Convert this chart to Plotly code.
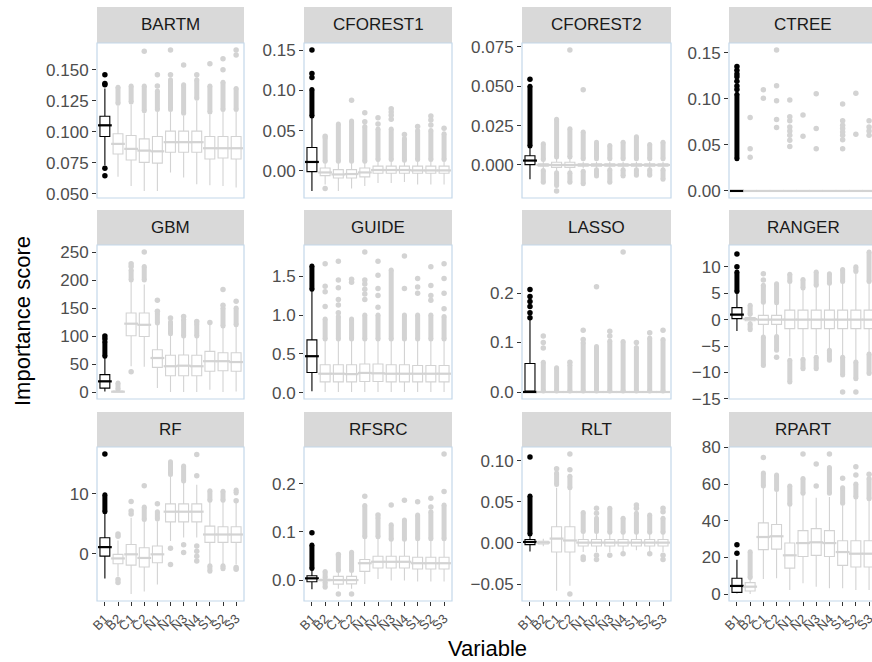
import plotly.graph_objects as go

# ---------------------------------------------------------------- data
VARS = ["B1", "B2", "C1", "C2", "N1", "N2", "N3", "N4", "S1", "S2", "S3"]
MODELS = ["BARTM", "CFOREST1", "CFOREST2", "CTREE",
          "GBM", "GUIDE", "LASSO", "RANGER",
          "RF", "RFSRC", "RLT", "RPART"]

# whisker ends and quartiles, one value per variable (order of VARS)
LOWER = {
    "BARTM":    [0.073, 0.0636, 0.0563, 0.0522, 0.0522, 0.0671, 0.0630, 0.0576, 0.0568, 0.0563, 0.0549],
    "CFOREST1": [-0.025, -0.017, -0.025, -0.022, -0.019, -0.015, -0.015, -0.014, -0.017, -0.017, -0.017],
    "CFOREST2": [-0.009, -0.0025, -0.004, -0.004, -0.002, -0.002, -0.002, -0.002, -0.002, -0.002, -0.002],
    "CTREE":    [0, 0, 0, 0, 0, 0, 0, 0, 0, 0, 0],
    "GBM":      [1, 0, 46, 45, 7, 0, 0, 0, 4, 0, 1],
    "GUIDE":    [0.02, 0.01, 0.01, 0.01, 0.01, 0.01, 0.01, 0.01, 0.01, 0.01, 0.01],
    "LASSO":    [0, 0, 0, 0, 0, 0, 0, 0, 0, 0, 0],
    "RANGER":   [-2.15, -0.6, -3.0, -3.0, -7.0, -7.0, -6.5, -5.6, -6.8, -7.8, -6.3],
    "RF":       [-4.1, -3.8, -6.7, -6.3, -5.1, 2.1, 2.7, 2.7, -1.8, -1.7, -1.8],
    "RFSRC":    [-0.019, -0.003, -0.018, -0.018, -0.008, 0.002, -0.001, -0.001, -0.003, -0.003, -0.003],
    "RLT":      [-0.0103, -0.004, -0.058, -0.052, -0.011, -0.011, -0.011, -0.011, -0.009, -0.011, -0.011],
    "RPART":    [0.4, 0.0, 8.2, 8.6, 2.2, 5.9, 4.0, 3.1, 3.1, 2.2, 2.2],
}
Q1 = {
    "BARTM":    [0.0962, 0.0821, 0.0772, 0.0753, 0.0747, 0.0834, 0.0834, 0.0834, 0.0780, 0.0788, 0.0780],
    "CFOREST1": [-0.001, -0.006, -0.009, -0.009, -0.0075, -0.003, -0.003, -0.003, -0.003, -0.003, -0.003],
    "CFOREST2": [0.0002, -0.0008, -0.0015, -0.0015, -0.0008, -0.0008, -0.0008, -0.0008, -0.0008, -0.0008, -0.0008],
    "CTREE":    [0, 0, 0, 0, 0, 0, 0, 0, 0, 0, 0],
    "GBM":      [7, 0, 100.5, 99, 44, 29, 29, 29, 37, 38, 37],
    "GUIDE":    [0.26, 0.14, 0.14, 0.14, 0.145, 0.145, 0.14, 0.14, 0.14, 0.14, 0.14],
    "LASSO":    [0, 0, 0, 0, 0, 0, 0, 0, 0, 0, 0],
    "RANGER":   [0.19, -0.2, -0.9, -0.9, -1.7, -1.7, -1.7, -1.7, -1.7, -1.7, -1.7],
    "RF":       [-0.39, -1.67, -1.9, -2.2, -1.5, 5.3, 5.3, 5.3, 1.9, 1.9, 1.9],
    "RFSRC":    [-0.0035, -0.0015, -0.0084, -0.008, 0.018, 0.025, 0.025, 0.025, 0.023, 0.023, 0.023],
    "RLT":      [-0.002, -0.0012, -0.011, -0.011, -0.0037, -0.0037, -0.0037, -0.0037, -0.0037, -0.0037, -0.0037],
    "RPART":    [0.9, 1.6, 24.2, 24.5, 14.1, 20.5, 21.1, 20.5, 15.6, 14.7, 14.7],
}
MEDIAN = {
    "BARTM":    [0.1052, 0.0902, 0.0862, 0.0848, 0.0842, 0.0916, 0.0916, 0.0916, 0.0867, 0.0867, 0.0867],
    "CFOREST1": [0.011, -0.002, -0.0045, -0.004, -0.002, 0.001, 0.001, 0.001, 0.0005, 0.0005, 0.0005],
    "CFOREST2": [0.0028, 0, 0, 0, 0, 0, 0, 0, 0, 0, 0],
    "CTREE":    [0, 0, 0, 0, 0, 0, 0, 0, 0, 0, 0],
    "GBM":      [19, 0.5, 122, 120, 60.7, 46, 47, 46, 55, 55, 53.5],
    "GUIDE":    [0.47, 0.245, 0.245, 0.24, 0.255, 0.25, 0.245, 0.245, 0.245, 0.245, 0.245],
    "LASSO":    [0, 0, 0, 0, 0, 0, 0, 0, 0, 0, 0],
    "RANGER":   [0.95, 0.1, 0, 0, 0, 0, 0, 0, 0, 0, 0],
    "RF":       [1.1, -0.78, -0.1, -0.7, -0.1, 7.0, 7.0, 7.0, 3.2, 3.2, 3.2],
    "RFSRC":    [0.0035, 0, 0, 0, 0.035, 0.038, 0.038, 0.038, 0.035, 0.035, 0.035],
    "RLT":      [0.0012, 0.0005, 0.0053, 0.003, 0.0004, 0.0004, 0.0004, 0.0004, 0.0004, 0.0004, 0.0004],
    "RPART":    [4.4, 4.0, 31.1, 31.5, 21.1, 27.8, 28.2, 27.8, 22.9, 22.0, 22.0],
}
Q3 = {
    "BARTM":    [0.1125, 0.0984, 0.0970, 0.0943, 0.0962, 0.1005, 0.1005, 0.1005, 0.0962, 0.0962, 0.0962],
    "CFOREST1": [0.029, 0.0036, 0.0015, 0.0015, 0.0036, 0.0058, 0.0058, 0.0058, 0.0058, 0.0058, 0.0058],
    "CFOREST2": [0.0059, 0.0008, 0.0017, 0.0017, 0.0008, 0.0008, 0.0008, 0.0008, 0.0008, 0.0008, 0.0008],
    "CTREE":    [0, 0, 0, 0, 0, 0, 0, 0, 0, 0, 0],
    "GBM":      [31, 1.5, 141, 141, 75.5, 65.5, 66, 65.5, 72.6, 70, 70],
    "GUIDE":    [0.68, 0.36, 0.36, 0.36, 0.37, 0.37, 0.36, 0.36, 0.35, 0.35, 0.35],
    "LASSO":    [0.0577, 0, 0, 0, 0, 0, 0, 0, 0, 0, 0],
    "RANGER":   [2.28, 0.4, 0.8, 0.8, 1.8, 1.8, 1.8, 1.8, 1.8, 1.8, 1.8],
    "RF":       [2.67, -0.1, 1.55, 1.0, 1.28, 8.3, 8.3, 8.3, 4.6, 4.5, 4.5],
    "RFSRC":    [0.009, 0.0015, 0.0077, 0.0077, 0.0426, 0.0496, 0.0496, 0.0496, 0.0475, 0.0475, 0.0475],
    "RLT":      [0.0041, 0.002, 0.0197, 0.0197, 0.0041, 0.0041, 0.0041, 0.0041, 0.0041, 0.0041, 0.0041],
    "RPART":    [8.6, 6.2, 38.8, 37.9, 27.8, 34.6, 35.7, 34.6, 29.1, 29.1, 29.1],
}
UPPER = {
    "BARTM":    [0.135, 0.121, 0.122, 0.115, 0.116, 0.116, 0.113, 0.125, 0.114, 0.116, 0.116],
    "CFOREST1": [0.066, 0.011, 0.011, 0.011, 0.011, 0.012, 0.012, 0.012, 0.012, 0.012, 0.012],
    "CFOREST2": [0.011, 0.0025, 0.004, 0.004, 0.002, 0.002, 0.002, 0.002, 0.002, 0.002, 0.002],
    "CTREE":    [0, 0, 0, 0, 0, 0, 0, 0, 0, 0, 0],
    "GBM":      [61, 4, 197, 192, 121, 102, 98, 98, 120, 115, 117],
    "GUIDE":    [1.31, 0.67, 0.67, 0.67, 0.67, 0.67, 0.67, 0.67, 0.67, 0.67, 0.67],
    "LASSO":    [0.146, 0, 0, 0, 0, 0, 0, 0, 0, 0, 0],
    "RANGER":   [5.2, 0.9, 3.0, 3.0, 6.8, 5.7, 6.3, 6.7, 7.0, 8.7, 7.0],
    "RF":       [6.8, 2.2, 6.0, 5.4, 5.4, 12.9, 11.9, 11.5, 8.6, 8.6, 8.5],
    "RFSRC":    [0.023, 0.004, 0.016, 0.016, 0.086, 0.086, 0.083, 0.083, 0.083, 0.083, 0.083],
    "RLT":      [0.0094, 0.005, 0.067, 0.065, 0.0115, 0.0115, 0.0115, 0.0115, 0.0115, 0.0115, 0.0115],
    "RPART":    [18.7, 8.5, 58, 56, 48, 54, 52.5, 53, 48.5, 52, 51],
}

# single outlying scores, per variable
OUTLIERS = {
    "BARTM":    [[0.0645, 0.0705, 0.138, 0.139, 0.146], [], [], [0.165], [0.137, 0.146], [0.146, 0.166],
                 [0.154], [0.146], [0.155], [0.150, 0.159], [0.162, 0.166]],
    "CFOREST1": [[0.116, 0.121, 0.150], [0.043, -0.022], [], [0.0875], [0.061, 0.072], [0.058, 0.066],
                 [0.064, 0.069, 0.073, 0.077], [0.045], [0.055], [0.057, 0.063, 0.068], [0.053]],
    "CFOREST2": [[0.0545], [], [-0.0165], [0.073], [0.0478], [], [], [], [], [], []],
    "CTREE":    [[0.110, 0.114, 0.119, 0.124, 0.127, 0.131, 0.135], [0.0366, 0.0457, 0.0797],
                 [0.1006, 0.1098], [0.0688, 0.0776, 0.098, 0.1141, 0.1529],
                 [0.0483, 0.0549, 0.0604, 0.0651, 0.0695, 0.0761, 0.0805, 0.0986], [0.0593, 0.0823],
                 [0.0457, 0.0677, 0.1054], [], [0.0457, 0.0556, 0.0604, 0.064, 0.0677, 0.0713, 0.0761, 0.0944],
                 [0.0615, 0.106], [0.0604, 0.065, 0.0695, 0.0761]],
    "GBM":      [[95, 100], [], [36, 224, 229], [250], [144, 164], [132], [135], [126], [124], [155, 183], [162]],
    "GUIDE":    [[], [1.11, 1.30, 1.37, 1.66], [1.03, 1.13, 1.20, 1.35, 1.45, 1.69], [1.42, 1.46],
                 [1.20, 1.27, 1.33, 1.40, 1.45, 1.81], [1.10, 1.25, 1.34, 1.51, 1.69], [], [1.34, 1.76],
                 [1.28, 1.36, 1.47], [1.19, 1.25, 1.38, 1.62], [1.08, 1.28, 1.47, 1.66]],
    "LASSO":    [[0.150, 0.160, 0.173, 0.183, 0.193, 0.207], [0.089, 0.100, 0.113], [], [0.060],
                 [0.106, 0.125], [0.213], [0.113, 0.123], [0.283], [0.100], [0.120], [0.125]],
    "RANGER":   [[10.0, 12.4], [], [7.5, 8.7], [-7.1], [], [], [], [], [-13.7], [-13.7], []],
    "RF":       [[16.6], [2.9, 3.3, -4.3, -4.8], [6.6, 7.1, 8.7], [11.3], [8.3], [0.9, -1.8], [1.5, 0.2],
                 [13.0, 16.5, 1.3, 0.4, -0.4, -1.2], [], [], [8.8, -2.3, -2.6]],
    "RFSRC":    [[0.0985], [], [0.053, -0.029], [-0.029], [0.174], [0.135], [0.156], [0.166], [0.163],
                 [0.152, 0.170], [0.184, 0.262]],
    "RLT":      [[0.1045], [], [0.090], [0.089, 0.108, -0.062], [-0.017, -0.020], [0.036, 0.042, -0.015, -0.020],
                 [-0.015], [-0.013], [0.042, 0.046], [-0.013], [0.038, 0.042, -0.015, -0.020]],
    "RPART":    [[22.3, 26.9], [], [74.5], [], [], [76.4], [59, 71], [76.4], [63.2], [65, 69.4], [65.4]],
}

# stretches of overlapping outliers (low, high), per variable
RUNS = {
    "BARTM":    [[], [(0.123, 0.136)], [(0.124, 0.137)], [(0.117, 0.137)], [(0.118, 0.133)], [(0.118, 0.142)],
                 [(0.115, 0.138)], [(0.127, 0.142)], [(0.116, 0.137)], [(0.118, 0.140)], [(0.118, 0.135)]],
    "CFOREST1": [[(0.068, 0.101)], [(0.012, 0.041)], [(0.012, 0.058)], [(0.012, 0.062)], [(0.012, 0.055)],
                 [(0.014, 0.052)], [(0.014, 0.052)], [(0.013, 0.040)], [(0.014, 0.050)], [(0.014, 0.050)],
                 [(0.014, 0.046)]],
    "CFOREST2": [[(0.012, 0.050)], [(0.0035, 0.0135), (-0.011, -0.0035)], [(0.005, 0.029), (-0.013, -0.005)],
                 [(0.005, 0.023), (-0.011, -0.005)], [(0.004, 0.021), (-0.012, -0.004)],
                 [(0.004, 0.0144), (-0.007, -0.003)], [(0.004, 0.0123), (-0.011, -0.003)],
                 [(0.004, 0.0144), (-0.007, -0.003)], [(0.004, 0.018), (-0.0065, -0.003)],
                 [(0.004, 0.013), (-0.0065, -0.003)], [(0.004, 0.0144), (-0.009, -0.003)]],
    "CTREE":    [[(0.035, 0.105)], [], [], [], [], [], [], [], [], [], []],
    "GBM":      [[(64, 90)], [(5, 16)], [(200, 218)], [(200, 224)], [(123, 140)], [(104, 125)], [(100, 130)],
                 [(100, 122)], [], [(118, 150)], [(120, 150)]],
    "GUIDE":    [[(1.33, 1.63)], [(0.69, 0.95)], [(0.69, 0.98)], [(0.69, 0.95)], [(0.69, 1.0)], [(0.69, 1.0)],
                 [(0.69, 1.58)], [(0.69, 1.0)], [(0.69, 1.0)], [(0.69, 1.0)], [(0.69, 0.98)]],
    "LASSO":    [[], [(0.002, 0.06)], [(0.002, 0.049)], [(0.002, 0.055)], [(0.002, 0.10)], [(0.002, 0.092)],
                 [(0.002, 0.103)], [(0.002, 0.102)], [(0.002, 0.09)], [(0.002, 0.109)], [(0.002, 0.106)]],
    "RANGER":   [[(5.3, 9.0)], [(1.0, 2.7), (-1.9, -0.8)], [(3.3, 6.5), (-8.7, -3.3)], [(3.2, 6.8), (-5.8, -3.2)],
                 [(7.2, 8.6), (-11.8, -7.7)], [(6.0, 7.6), (-9.3, -7.5)], [(6.5, 9.0), (-9.3, -7.1)],
                 [(6.9, 8.7), (-7.7, -5.8)], [(7.2, 9.5), (-10.5, -7.1)], [(9.1, 10.0), (-11.2, -8.0)],
                 [(7.2, 12.8), (-10.2, -6.5)]],
    "RF":       [[(7.0, 9.8)], [], [], [(5.7, 7.8)], [(5.8, 7.0)], [(13.2, 15.3)], [(12.1, 14.6)], [],
                 [(8.9, 10.5), (-2.9, -2.0)], [(8.9, 10.4), (-2.5, -2.0)], [(10.1, 10.6)]],
    "RFSRC":    [[(0.024, 0.073)], [(0.005, 0.018), (-0.015, -0.004)], [(0.02, 0.05)], [(0.02, 0.058)],
                 [(0.09, 0.155)], [(0.09, 0.13)], [(0.085, 0.115)], [(0.085, 0.125)], [(0.086, 0.135)],
                 [(0.086, 0.142)], [(0.086, 0.156)]],
    "RLT":      [[(0.011, 0.057)], [], [(0.071, 0.085)], [(0.067, 0.081)], [(0.014, 0.037)], [(0.014, 0.030)],
                 [(0.013, 0.042)], [(0.013, 0.030)], [(0.013, 0.036)], [(0.013, 0.034)], [(0.013, 0.030)]],
    "RPART":    [[], [(9.0, 23.0)], [(59, 66)], [(57, 65)], [(49, 59)], [(55, 63)], [], [(55, 69)],
                 [(49.5, 58)], [(53, 60)], [(52, 63)]],
}

# y tick values and labels per facet
Y_TICKS = {
    "BARTM": [0.050, 0.075, 0.100, 0.125, 0.150],
    "CFOREST1": [0.00, 0.05, 0.10, 0.15],
    "CFOREST2": [0.000, 0.025, 0.050, 0.075],
    "CTREE": [0.00, 0.05, 0.10, 0.15],
    "GBM": [0, 50, 100, 150, 200, 250],
    "GUIDE": [0.0, 0.5, 1.0, 1.5],
    "LASSO": [0.0, 0.1, 0.2],
    "RANGER": [-15, -10, -5, 0, 5, 10],
    "RF": [0, 10],
    "RFSRC": [0.0, 0.1, 0.2],
    "RLT": [-0.05, 0.00, 0.05, 0.10],
    "RPART": [0, 20, 40, 60, 80],
}
Y_LABELS = {
    "BARTM": ["0.050", "0.075", "0.100", "0.125", "0.150"],
    "CFOREST1": ["0.00", "0.05", "0.10", "0.15"],
    "CFOREST2": ["0.000", "0.025", "0.050", "0.075"],
    "CTREE": ["0.00", "0.05", "0.10", "0.15"],
    "GBM": ["0", "50", "100", "150", "200", "250"],
    "GUIDE": ["0.0", "0.5", "1.0", "1.5"],
    "LASSO": ["0.0", "0.1", "0.2"],
    "RANGER": ["\u221215", "\u221210", "\u22125", "0", "5", "10"],
    "RF": ["0", "10"],
    "RFSRC": ["0.0", "0.1", "0.2"],
    "RLT": ["\u22120.05", "0.00", "0.05", "0.10"],
    "RPART": ["0", "20", "40", "60", "80"],
}

# ---------------------------------------------------------------- layout
W, H = 872, 662
COL_PX = [(97, 244), (304, 452), (522, 671), (729, 877)]      # panel left/right
ROW_PX = [(7, 43, 198), (210, 245, 399), (412, 447, 601)]      # strip top, panel top, panel bottom
BLACK = "#000000"
GREY = "#d3d3d3"
BORDER = "#c3d8ea"
STRIP = "#d9d9d9"
FONT = "Liberation Sans, Arial, Helvetica, sans-serif"
TICK_COL = "#4d4d4d"

fig = go.Figure()
shapes, annotations = [], []
layout_axes = {}

for k, m in enumerate(MODELS):
    r, c = divmod(k, 4)
    sfx = "" if k == 0 else str(k + 1)
    xa, ya = "x" + sfx, "y" + sfx
    x0, x1 = COL_PX[c]
    st, pt, pb = ROW_PX[r]
    unit = (x1 - x0) / 11.2
    xv = min(x1, W)
    box_px = 0.75 * unit

    vals = (LOWER[m] + UPPER[m] + [v for lst in OUTLIERS[m] for v in lst]
            + [v for runs in RUNS[m] for run in runs for v in run])
    lo, hi = min(vals), max(vals)
    pad = 0.05 * (hi - lo)

    colors = [BLACK if v == "B1" else GREY for v in VARS]

    # dense outlier stretches and single outliers
    for col in (GREY, BLACK):
        rx, ry, px_, py_ = [], [], [], []
        for i, v in enumerate(VARS):
            if colors[i] != col:
                continue
            for (a, b) in RUNS[m][i]:
                rx += [v, v, None]
                ry += [a, b, None]
            for o in OUTLIERS[m][i]:
                px_.append(v)
                py_.append(o)
        if rx:
            fig.add_trace(go.Scatter(x=rx, y=ry, mode="lines+markers", xaxis=xa, yaxis=ya,
                                     line=dict(color=col, width=5),
                                     marker=dict(color=col, size=5),
                                     hoverinfo="skip", showlegend=False))
        if px_:
            fig.add_trace(go.Scatter(x=px_, y=py_, mode="markers", xaxis=xa, yaxis=ya,
                                     marker=dict(color=col, size=5.5),
                                     hoverinfo="skip", showlegend=False))

    # boxes
    for col in (GREY, BLACK):
        idx = [i for i in range(len(VARS)) if colors[i] == col]
        fig.add_trace(go.Box(
            x=[VARS[i] for i in idx],
            q1=[Q1[m][i] for i in idx], median=[MEDIAN[m][i] for i in idx],
            q3=[Q3[m][i] for i in idx], lowerfence=[LOWER[m][i] for i in idx],
            upperfence=[UPPER[m][i] for i in idx],
            orientation="v", boxpoints=False, width=0.75, whiskerwidth=0,
            line=dict(color=col, width=1.1), fillcolor="white",
            xaxis=xa, yaxis=ya, hoverinfo="skip", showlegend=False))

    # thicker median bars
    fig.add_trace(go.Scatter(x=VARS, y=MEDIAN[m], mode="markers", xaxis=xa, yaxis=ya,
                             marker=dict(symbol="line-ew", size=box_px,
                                         line=dict(color=colors, width=2.2)),
                             hoverinfo="skip", showlegend=False))

    bottom = (r == 2)
    layout_axes["xaxis" + sfx] = dict(
        domain=[x0 / W, xv / W], anchor=ya, type="category", categoryorder="array",
        categoryarray=VARS, range=[-0.6, -0.6 + (xv - x0) / unit],
        tickmode="array", tickvals=VARS, ticktext=VARS,
        showgrid=False, zeroline=False, showline=False, automargin=False,
        ticks="outside" if bottom else "", ticklen=4, tickwidth=1.1, tickcolor="#333333",
        showticklabels=bottom, tickangle=-45,
        tickfont=dict(family=FONT, size=13, color=TICK_COL), fixedrange=True)
    layout_axes["yaxis" + sfx] = dict(
        domain=[1 - pb / H, 1 - pt / H], anchor=xa, range=[lo - pad, hi + pad],
        tickmode="array", tickvals=Y_TICKS[m], ticktext=Y_LABELS[m],
        showgrid=False, zeroline=False, showline=False, automargin=False,
        ticks="outside", ticklen=4, tickwidth=1.1, tickcolor="#333333",
        tickfont=dict(family=FONT, size=17, color=TICK_COL), fixedrange=True)

    # facet strip and panel frame
    shapes.append(dict(type="rect", xref="paper", yref="paper",
                       x0=x0 / W, x1=x1 / W, y0=1 - pt / H, y1=1 - st / H,
                       fillcolor=STRIP, line=dict(width=0), layer="below"))
    shapes.append(dict(type="rect", xref="paper", yref="paper",
                       x0=x0 / W, x1=x1 / W, y0=1 - pb / H, y1=1 - pt / H,
                       fillcolor="rgba(0,0,0,0)", line=dict(color=BORDER, width=1.2), layer="above"))
    annotations.append(dict(text=m, xref="paper", yref="paper",
                            x=(x0 + x1) / 2 / W, y=1 - (st + pt) / 2 / H,
                            xanchor="center", yanchor="middle", showarrow=False,
                            font=dict(family=FONT, size=17, color="#1a1a1a")))

annotations.append(dict(text="Variable", xref="paper", yref="paper",
                        x=487 / W, y=1 - 648 / H, xanchor="center", yanchor="middle",
                        showarrow=False, font=dict(family=FONT, size=22, color="black")))
annotations.append(dict(text="Importance score", xref="paper", yref="paper",
                        x=22 / W, y=1 - 321 / H, xanchor="center", yanchor="middle",
                        textangle=-90, showarrow=False,
                        font=dict(family=FONT, size=22, color="black")))

fig.update_layout(
    template="none", width=W, height=H,
    margin=dict(l=0, r=0, t=0, b=0, pad=0),
    paper_bgcolor="white", plot_bgcolor="white",
    showlegend=False, hovermode=False, boxmode="overlay",
    shapes=shapes, annotations=annotations, **layout_axes)

fig.write_html("out.html")
